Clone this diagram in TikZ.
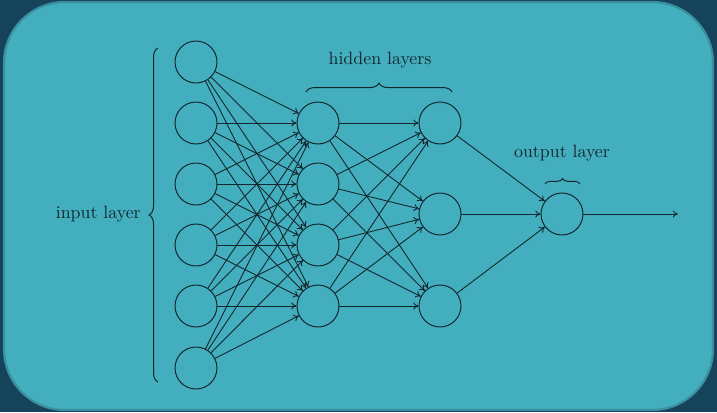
\documentclass[tikz,border=0pt]{standalone}
\usetikzlibrary{decorations.pathreplacing,arrows.meta}
\definecolor{bgdark}{HTML}{15435A}
\definecolor{panel}{HTML}{42AEBE}
\definecolor{panelborder}{HTML}{3A8E9E}
\definecolor{ink}{HTML}{14272E}
\begin{document}
\begin{tikzpicture}[x=0.56pt,y=-0.56pt,
  neuron/.style={circle,draw=ink,line width=0.55pt,minimum size=23.5pt,inner sep=0pt},
  link/.style={draw=ink,line width=0.5pt,-{To[length=3pt,width=4pt]}},
  bracestyle/.style={draw=ink,line width=0.55pt,decorate,decoration={brace,amplitude=#1}},
  lbl/.style={text=ink,font=\normalsize}]
\fill[bgdark] (0,0) rectangle (717,412);
\useasboundingbox (0,0) rectangle (717,412);
\draw[fill=panel,draw=panelborder,line width=1.2pt,rounded corners=34pt] (4,2) rectangle (713,410);
% input layer
\foreach \i/\y in {1/62,2/123,3/184,4/245,5/306,6/368}
  \node[neuron] (I\i) at (196,\y) {};
\foreach \i/\y in {1/123,2/184,3/245,4/306}
  \node[neuron] (A\i) at (318,\y) {};
\foreach \i/\y in {1/123,2/214,3/306}
  \node[neuron] (B\i) at (440,\y) {};
\node[neuron] (O) at (562,214) {};
\coordinate (out) at (678,214);
\foreach \i in {1,...,6}
  \foreach \j in {1,...,4}
    \draw[link] (I\i) -- (A\j);
\foreach \i in {1,...,4}
  \foreach \j in {1,...,3}
    \draw[link] (A\i) -- (B\j);
\foreach \i in {1,...,3}
  \draw[link] (B\i) -- (O);
\draw[link] (O) -- (out);
% braces
\coordinate (ib1) at (158,382);
\coordinate (ib2) at (158,48);
\draw[bracestyle=5pt] (ib1) -- (ib2);
\node[lbl,anchor=east] (il) at (147,214) {input layer};
\coordinate (hb1) at (306,92);
\coordinate (hb2) at (452,92);
\draw[bracestyle=5pt] (hb1) -- (hb2);
\node[lbl] (hl) at (380,60) {hidden layers};
\coordinate (ob1) at (545,184);
\coordinate (ob2) at (580,184);
\draw[bracestyle=3pt] (ob1) -- (ob2);
\node[lbl] (ol) at (562,153) {output layer};
\end{tikzpicture}
\end{document}
